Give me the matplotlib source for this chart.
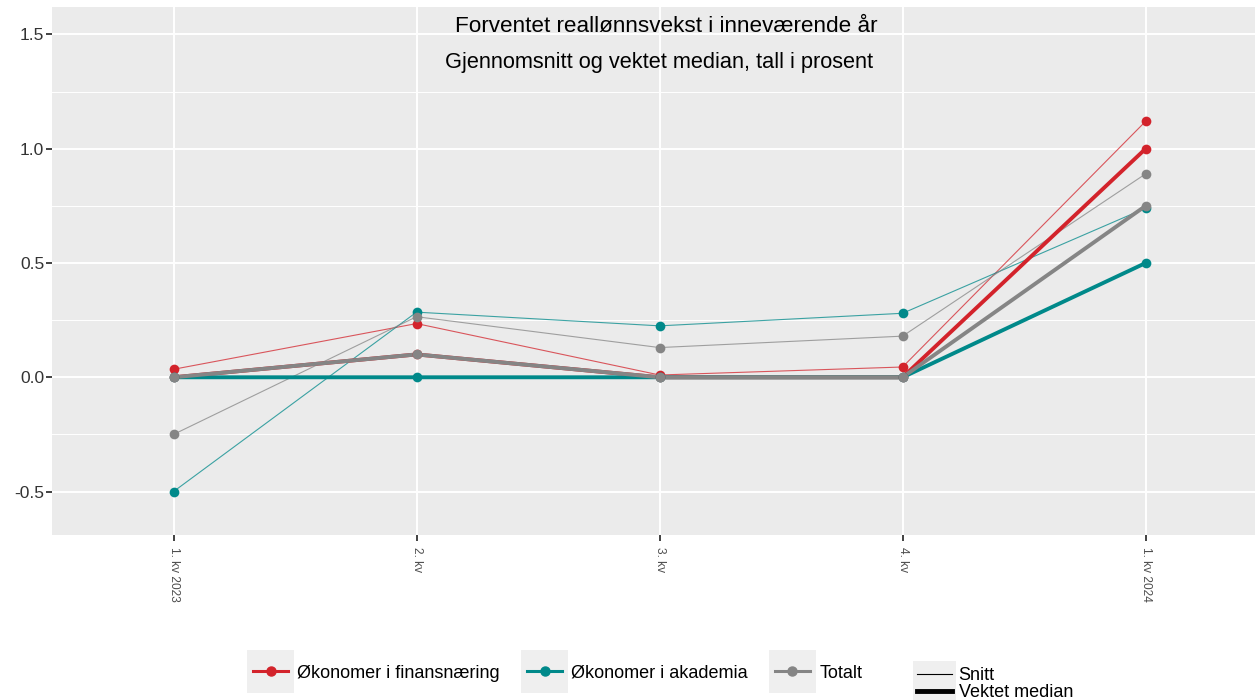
import matplotlib
matplotlib.use("Agg")
import matplotlib.pyplot as plt
from matplotlib.lines import Line2D
from matplotlib.patches import Rectangle
from matplotlib.legend_handler import HandlerLine2D
import numpy as np

plt.rcParams['font.family'] = ['Liberation Sans', 'DejaVu Sans']

quarters = ["1. kv 2023", "2. kv", "3. kv", "4. kv", "1. kv 2024"]
groups = ["Økonomer i finansnæring", "Økonomer i akademia", "Totalt"]
colors = ["#D3232B", "#00898A", "#858585"]

snitt_finans = [0.035, 0.235, 0.01, 0.045, 1.12]
snitt_akademia = [-0.50, 0.285, 0.225, 0.28, 0.74]
snitt_totalt = [-0.25, 0.265, 0.13, 0.18, 0.89]

median_finans = [0.0, 0.1, 0.0, 0.0, 1.0]
median_akademia = [0.0, 0.0, 0.0, 0.0, 0.5]
median_totalt = [0.0, 0.1, 0.0, 0.0, 0.75]

title = "Forventet reallønnsvekst i inneværende år"
subtitle = "Gjennomsnitt og vektet median, tall i prosent"
yticks = [-0.5, 0.0, 0.5, 1.0, 1.5]

fig = plt.figure(figsize=(12.55, 7.0), dpi=100)
ax = fig.add_axes([52/1255, 1-535/700, 1-52/1255, (535-7)/700])
ax.set_facecolor("#EBEBEB")
for s in ax.spines.values():
    s.set_visible(False)

x = np.arange(len(quarters))
snitt = [snitt_finans, snitt_akademia, snitt_totalt]
median = [median_finans, median_akademia, median_totalt]

for vals, c in zip(snitt, colors):
    ax.plot(x, vals, color=c, lw=0.8, alpha=0.75, zorder=3)
    ax.plot(x, vals, 'o', color=c, ms=7, zorder=4, mec='none')
for vals, c in zip(median, colors):
    ax.plot(x, vals, color=c, lw=2.8, zorder=5, solid_capstyle='round')
    ax.plot(x, vals, 'o', color=c, ms=7, zorder=6, mec='none')

ax.set_xlim(-0.5, 4.45)
ax.set_ylim(-0.69, 1.62)
ax.set_xticks(x)
ax.set_xticklabels(quarters, rotation=270, fontsize=8.6, color="#4D4D4D")
ax.set_yticks(yticks)
ax.set_yticklabels([f"{v:.1f}" for v in yticks], fontsize=12.5, color="#333333")
ax.set_yticks(np.arange(-0.25, 1.6, 0.5), minor=True)
ax.grid(True, which='major', color='white', lw=1.4, zorder=0)
ax.grid(True, which='minor', axis='y', color='white', lw=0.7, zorder=0)
ax.set_axisbelow(True)
ax.tick_params(axis='both', which='major', length=4, width=1.3, color="#333333", direction='out')
ax.tick_params(axis='y', which='major', pad=1.5)
ax.tick_params(axis='x', which='major', pad=4.5)
ax.tick_params(axis='y', which='minor', length=0)

ax.text(0.511, 0.963, title, transform=ax.transAxes, ha='center', va='center', fontsize=16.2, color='black')
ax.text(0.505, 0.895, subtitle, transform=ax.transAxes, ha='center', va='center', fontsize=15.7, color='black')


class BoxHandler(HandlerLine2D):
    def __init__(self, wpad=4.0, hbox=31.0, dy=0.0, **kw):
        super().__init__(**kw)
        self.wpad = wpad
        self.hbox = hbox
        self.dy = dy

    def create_artists(self, legend, orig_handle, xdescent, ydescent, width, height, fontsize, trans):
        arts = super().create_artists(legend, orig_handle, xdescent, ydescent, width, height, fontsize, trans)
        cy = -ydescent + height / 2.0 + self.dy
        r = Rectangle((-xdescent - self.wpad, cy - self.hbox / 2.0), width + 2 * self.wpad, self.hbox,
                      facecolor="#EFEFEF", edgecolor='none', transform=trans, zorder=0)
        return [r] + list(arts)


handles = [Line2D([0], [0], color=c, lw=2.2, marker='o', ms=6.5) for c in colors]
leg1 = fig.legend(handles, groups, loc='center left', bbox_to_anchor=(253/1255, 1-673/700),
                  ncol=3, frameon=False, fontsize=13, handlelength=1.95, handletextpad=0.5,
                  columnspacing=1.5, borderpad=0, borderaxespad=0,
                  handler_map={Line2D: BoxHandler(wpad=4.0, hbox=31.0)})

handles2 = [Line2D([0], [0], color='black', lw=0.8), Line2D([0], [0], color='black', lw=3.5)]
leg2 = fig.legend(handles2, ["Snitt", "Vektet median"], loc='upper left',
                  bbox_to_anchor=(917/1255, 1-667/700), frameon=False, fontsize=13,
                  handlelength=1.95, handletextpad=0.35, labelspacing=0.0, borderaxespad=0,
                  borderpad=0,
                  handler_map={Line2D: BoxHandler(wpad=3.0, hbox=16.0, dy=1.0)})

fig.savefig("out.png", dpi=100)
